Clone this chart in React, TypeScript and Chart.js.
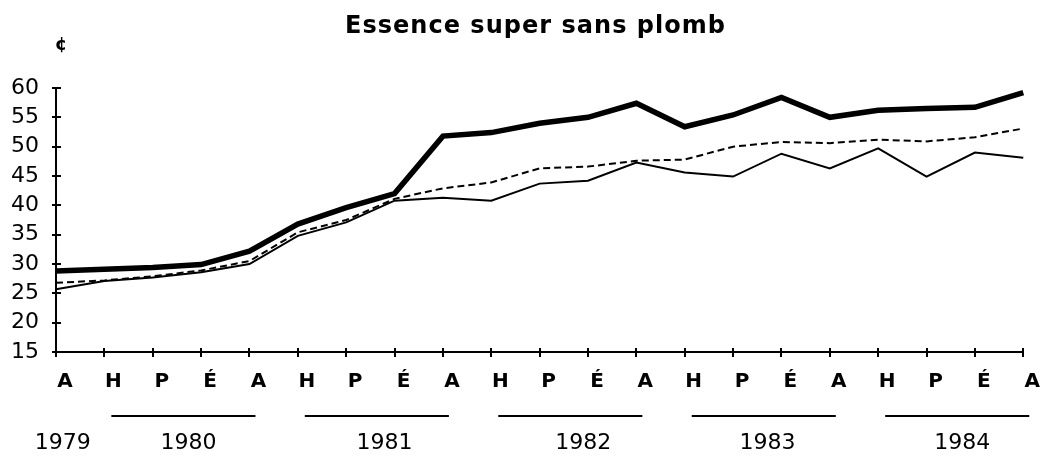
import { useEffect, useRef } from 'react';
import { Chart, registerables } from 'chart.js';

Chart.register(...registerables);

const seasonLabels = ['A', 'H', 'P', 'É', 'A', 'H', 'P', 'É', 'A', 'H', 'P', 'É', 'A', 'H', 'P', 'É', 'A', 'H', 'P', 'É', 'A'];

const serieHaute = [28.8, 29.1, 29.4, 29.9, 32.2, 36.8, 39.6, 42.0, 51.8, 52.4, 54.0, 55.0, 57.4, 53.4, 55.4, 58.4, 55.0, 56.2, 56.5, 56.7, 59.2];
const serieMoyenne = [26.8, 27.2, 27.9, 28.9, 30.5, 35.4, 37.5, 41.1, 42.9, 43.9, 46.3, 46.6, 47.6, 47.8, 50.0, 50.8, 50.6, 51.2, 50.9, 51.6, 53.1];
const serieBasse = [25.7, 27.1, 27.7, 28.6, 30.0, 34.8, 37.1, 40.8, 41.3, 40.8, 43.7, 44.2, 47.3, 45.6, 44.9, 48.8, 46.3, 49.7, 44.9, 49.0, 48.1];

const yearNames = ['1979', '1980', '1981', '1982', '1983', '1984'];
const yearLabelIndex = [0.14, 2.74, 6.79, 10.9, 14.71, 18.74];
const yearUnderlineSpans = [[1, 4], [5, 8], [9, 12], [13, 16], [17, 20]];

const titleText = 'Essence super sans plomb';
const unitText = '¢';

const FONT = '"DejaVu Sans", "Liberation Sans", sans-serif';

function drawSpaced(ctx: CanvasRenderingContext2D, text: string, cx: number, y: number, totalWidth: number) {
  const chars = Array.from(text);
  const widths = chars.map((c) => ctx.measureText(c).width);
  const natural = widths.reduce((a, b) => a + b, 0);
  const gap = chars.length > 1 ? (totalWidth - natural) / (chars.length - 1) : 0;
  let x = cx - totalWidth / 2;
  ctx.textAlign = 'left';
  chars.forEach((c, i) => {
    ctx.fillText(c, x, y);
    x += widths[i] + gap;
  });
}

const decorPlugin = {
  id: 'decor',
  afterDraw(chart: any) {
    const ctx: CanvasRenderingContext2D = chart.ctx;
    const xs = chart.scales.x;
    const ys = chart.scales.y;
    const area = chart.chartArea;
    ctx.save();
    ctx.fillStyle = '#000';
    ctx.strokeStyle = '#000';

    // Title
    ctx.font = `bold 24px ${FONT}`;
    ctx.textBaseline = 'alphabetic';
    drawSpaced(ctx, titleText, 535, 33, 380);

    // Unit
    ctx.font = `bold 18px ${FONT}`;
    ctx.textAlign = 'center';
    ctx.textBaseline = 'middle';
    ctx.fillText(unitText, area.left + 5, 45);

    // y tick marks crossing axis
    ctx.lineWidth = 2;
    ys.ticks.forEach((t: any) => {
      const py = Math.round(ys.getPixelForValue(t.value));
      ctx.beginPath();
      ctx.moveTo(area.left - 4, py);
      ctx.lineTo(area.left + 5, py);
      ctx.stroke();
    });
    // x tick marks crossing axis
    seasonLabels.forEach((_, i) => {
      const px = Math.round(xs.getPixelForValue(i));
      ctx.beginPath();
      ctx.moveTo(px, area.bottom - 4);
      ctx.lineTo(px, area.bottom + 5);
      ctx.stroke();
    });

    // Year underlines
    ctx.lineWidth = 2;
    yearUnderlineSpans.forEach(([a, b]) => {
      const x1 = xs.getPixelForValue(a) + 7;
      const x2 = xs.getPixelForValue(b) + 6;
      ctx.beginPath();
      ctx.moveTo(x1, 416);
      ctx.lineTo(x2, 416);
      ctx.stroke();
    });

    // Year labels
    ctx.font = `22px ${FONT}`;
    ctx.textAlign = 'center';
    ctx.textBaseline = 'middle';
    yearNames.forEach((name, i) => {
      const f = yearLabelIndex[i];
      const x0 = xs.getPixelForValue(0);
      const step = xs.getPixelForValue(1) - x0;
      ctx.fillText(name, x0 + f * step, 443);
    });

    ctx.restore();
  },
};

export default function App() {
  const canvasRef = useRef<HTMLCanvasElement | null>(null);

  useEffect(() => {
    const canvas = canvasRef.current;
    if (!canvas) return;
    Chart.defaults.font.family = FONT;
    const chart = new Chart(canvas, {
      type: 'line',
      data: {
        labels: seasonLabels,
        datasets: [
          {
            label: 'Haute',
            data: serieHaute,
            borderColor: '#000',
            borderWidth: 5.5,
            pointRadius: 0,
            tension: 0,
            fill: false,
          },
          {
            label: 'Moyenne',
            data: serieMoyenne,
            borderColor: '#000',
            borderWidth: 2,
            borderDash: [7, 4],
            pointRadius: 0,
            tension: 0,
            fill: false,
          },
          {
            label: 'Basse',
            data: serieBasse,
            borderColor: '#000',
            borderWidth: 2,
            pointRadius: 0,
            tension: 0,
            fill: false,
          },
        ],
      },
      options: {
        responsive: true,
        maintainAspectRatio: false,
        animation: false,
        layout: { padding: { top: 88, right: 21, left: 0, bottom: 0 } },
        plugins: {
          legend: { display: false },
          title: { display: false },
          tooltip: { enabled: false },
        },
        scales: {
          x: {
            type: 'category',
            offset: false,
            grid: { display: false, drawTicks: false },
            border: { display: true, color: '#000', width: 2 },
            ticks: {
              autoSkip: false,
              maxRotation: 0,
              minRotation: 0,
              labelOffset: 9,
              padding: 18,
              color: '#000',
              font: { family: FONT, size: 20, weight: 'bold' },
            },
            afterFit: (scale: any) => {
              scale.height = 106;
            },
          },
          y: {
            min: 15,
            max: 60,
            grid: { display: false, drawTicks: false },
            border: { display: true, color: '#000', width: 2 },
            ticks: {
              stepSize: 5,
              autoSkip: false,
              padding: 17,
              color: '#000',
              font: { family: FONT, size: 22 },
            },
            afterFit: (scale: any) => {
              scale.width = 56;
            },
          },
        },
      },
      plugins: [decorPlugin],
    });
    return () => chart.destroy();
  }, []);

  return (
    <div style={{ position: 'absolute', left: 0, top: 0, width: 1049, height: 458, background: '#fff' }}>
      <canvas ref={canvasRef} />
    </div>
  );
}
